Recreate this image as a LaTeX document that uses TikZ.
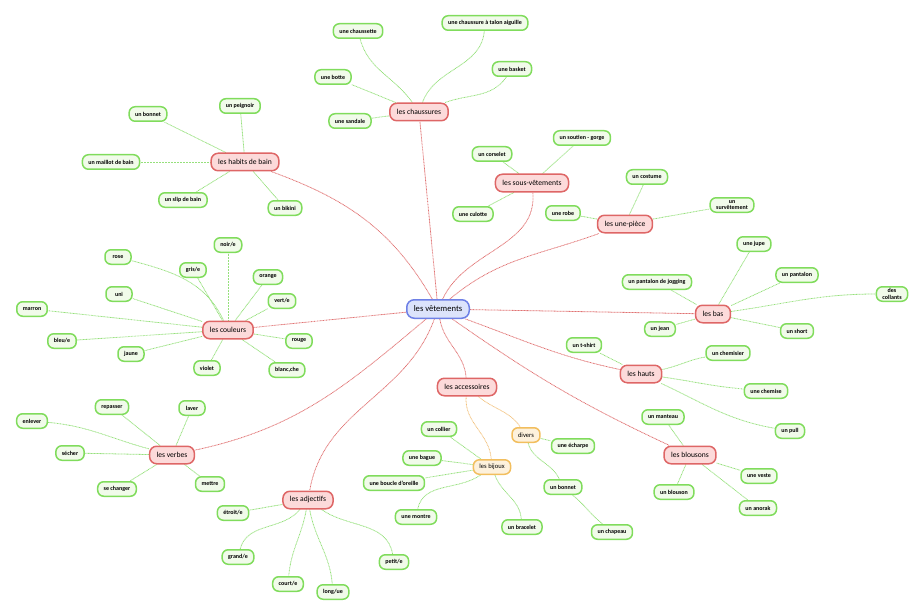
\documentclass[tikz,border=0pt]{standalone}
\usepackage{fontspec}
\setmainfont{Carlito}
\usetikzlibrary{backgrounds}

\definecolor{lfD}{HTML}{80DC5C}
\definecolor{lfF}{HTML}{F1FBEA}
\definecolor{ctD}{HTML}{DE6666}
\definecolor{ctF}{HTML}{FCDADA}
\definecolor{mnD}{HTML}{6E80E6}
\definecolor{mnF}{HTML}{DCE3FB}
\definecolor{sbD}{HTML}{F2BE5E}
\definecolor{sbF}{HTML}{FDF1DC}
\definecolor{rlC}{HTML}{E07272}
\definecolor{glC}{HTML}{96E07C}
\definecolor{olC}{HTML}{F2C27E}

\begin{document}
\begin{tikzpicture}[
  x=1pt,y=1pt,
  bx/.style ={draw,align=center,line width=1.5pt,inner xsep=6pt,inner ysep=1.5pt},
  lf/.style ={bx,rounded corners=6pt,draw=lfD,fill=lfF,minimum height=14.5pt,minimum width=26pt,
              font=\fontsize{6}{6.8}\selectfont\bfseries},
  ct/.style ={bx,rounded corners=7pt,draw=ctD,fill=ctF,minimum height=17.5pt,inner xsep=7pt,
              font=\fontsize{7.6}{9}\selectfont},
  sb/.style ={bx,rounded corners=6pt,draw=sbD,fill=sbF,minimum height=14.5pt,
              font=\fontsize{6.6}{8}\selectfont},
  mn/.style ={bx,rounded corners=7.5pt,draw=mnD,fill=mnF,minimum height=18.5pt,inner xsep=7pt,
              font=\fontsize{8.6}{10}\selectfont},
  ln/.style ={line width=0.8pt,dash pattern=on 0.9pt off 0.6pt},
  rl/.style ={ln,draw=rlC},
  gl/.style ={ln,draw=glC},
  ol/.style ={ln,draw=olC}
]
\useasboundingbox (0,0) rectangle (924,-615);

% ======== centre
\node[mn] (vt) at (438,-309) {les vêtements};

% ======== categories
\node[ct] (chs) at (419,-112) {les chaussures};
\node[ct] (hb)  at (245,-162) {les habits de bain};
\node[ct] (sv)  at (532,-183) {les sous-vêtements};
\node[ct] (up)  at (625,-224) {les une-pièce};
\node[ct] (bas) at (713,-314) {les bas};
\node[ct] (cou) at (228,-330) {les couleurs};
\node[ct] (ht)  at (641,-374) {les hauts};
\node[ct] (acc) at (467,-387) {les accessoires};
\node[ct] (bl)  at (690,-455) {les blousons};
\node[ct] (vb)  at (172,-455) {les verbes};
\node[ct] (adj) at (308,-500) {les adjectifs};

% ======== les chaussures
\node[lf] (chst) at (358,-31)  {une chaussette};
\node[lf] (tal)  at (485,-23)  {une chaussure à talon aiguille};
\node[lf] (bsk)  at (512,-69)  {une basket};
\node[lf] (bot)  at (333,-77)  {une botte};
\node[lf] (snd)  at (350,-121) {une sandale};

% ======== les habits de bain
\node[lf] (bon1) at (148,-114) {un bonnet};
\node[lf] (peg)  at (240,-106) {un peignoir};
\node[lf] (mlt)  at (111,-162) {un maillot de bain};
\node[lf] (slp)  at (183,-200) {un slip de bain};
\node[lf] (bik)  at (285,-208) {un bikini};

% ======== les sous-vêtements
\node[lf] (crs) at (492,-154) {un corselet};
\node[lf] (stg) at (582,-138) {un soutien - gorge};
\node[lf] (cul) at (473,-214) {une culotte};

% ======== les une-pièce
\node[lf] (cst) at (647,-177) {un costume};
\node[lf] (rob) at (563,-213) {une robe};
\node[lf] (srv) at (732,-205) {un\\survêtement};

% ======== les bas
\node[lf] (jup) at (754,-244) {une jupe};
\node[lf] (pan) at (797,-275) {un pantalon};
\node[lf] (jog) at (657,-282) {un pantalon de jogging};
\node[lf] (col) at (892,-294) {des\\collants};
\node[lf] (jea) at (660,-329) {un jean};
\node[lf] (sho) at (797,-331) {un short};

% ======== les couleurs
\node[lf] (noi) at (228,-245) {noir/e};
\node[lf] (ros) at (118,-257) {rose};
\node[lf] (gri) at (193,-270) {gris/e};
\node[lf] (org) at (268,-277) {orange};
\node[lf] (uni) at (119,-294) {uni};
\node[lf] (ver) at (282,-301) {vert/e};
\node[lf] (mar) at (32,-309)  {marron};
\node[lf] (rou) at (299,-341) {rouge};
\node[lf] (ble) at (62,-341)  {bleu/e};
\node[lf] (jau) at (131,-354) {jaune};
\node[lf] (vio) at (207,-368) {violet};
\node[lf] (bla) at (287,-370) {blanc,che};

% ======== les hauts
\node[lf] (tsh) at (584,-345) {un t-shirt};
\node[lf] (chm) at (728,-353) {un chemisier};
\node[lf] (che) at (766,-391) {une chemise};
\node[lf] (pul) at (790,-431) {un pull};

% ======== les blousons
\node[lf] (man) at (663,-417) {un manteau};
\node[lf] (ves) at (759,-476) {une veste};
\node[lf] (blo) at (674,-492) {un blouson};
\node[lf] (ano) at (758,-508) {un anorak};

% ======== les accessoires
\node[sb] (div) at (526,-435) {divers};
\node[sb] (bij) at (492,-467) {les bijoux};
\node[lf] (ech)  at (573,-446) {une écharpe};
\node[lf] (bon2) at (563,-487) {un bonnet};
\node[lf] (chp)  at (612,-532) {un chapeau};
\node[lf] (cll)  at (439,-429) {un collier};
\node[lf] (bag)  at (422,-458) {une bague};
\node[lf] (bcl)  at (394,-483) {une boucle d'oreille};
\node[lf] (mon)  at (416,-517) {une montre};
\node[lf] (brc)  at (522,-527) {un bracelet};

% ======== les verbes
\node[lf] (rep) at (112,-407) {repasser};
\node[lf] (lav) at (192,-408) {laver};
\node[lf] (enl) at (32,-421)  {enlever};
\node[lf] (sec) at (70,-453)  {sécher};
\node[lf] (chg) at (117,-489) {se changer};
\node[lf] (met) at (210,-484) {mettre};

% ======== les adjectifs
\node[lf] (etr) at (233,-513) {étroit/e};
\node[lf] (grd) at (238,-557) {grand/e};
\node[lf] (crt) at (288,-584) {court/e};
\node[lf] (lng) at (333,-592) {long/ue};
\node[lf] (pet) at (394,-562) {petit/e};

% ======== links (drawn behind)
\begin{pgfonlayer}{background}
% centre -> categories
\draw[rl] (vt) -- (chs);
\draw[rl] (vt) to[out=120,in=-20] (hb);
\draw[rl] (vt) to[out=65,in=-85] (sv);
\draw[rl] (vt) to[out=40,in=200] (up);
\draw[rl] (vt) -- (bas);
\draw[rl] (vt) -- (cou);
\draw[rl] (vt) to[out=-20,in=168] (ht);
\draw[rl] (vt) to[out=-80,in=95] (acc);
\draw[rl] (vt) to[out=-35,in=155] (bl);
\draw[rl] (vt) to[out=-140,in=12] (vb);
\draw[rl] (vt) to[out=-110,in=80] (adj);

% les chaussures
\draw[gl] (chs) to[out=125,in=-75] (chst);
\draw[gl] (chs) to[out=70,in=-95] (tal);
\draw[gl] (chs) to[out=20,in=-125] (bsk);
\draw[gl] (chs) -- (bot);
\draw[gl] (chs) -- (snd);

% les habits de bain
\foreach \c in {bon1,peg,mlt,slp,bik} \draw[gl] (hb) -- (\c);

% les sous-vêtements, les une-pièce
\foreach \c in {crs,stg,cul} \draw[gl] (sv) -- (\c);
\foreach \c in {cst,rob,srv} \draw[gl] (up) -- (\c);

% les bas
\foreach \c in {jup,pan,jog,jea,sho} \draw[gl] (bas) -- (\c);
\draw[gl] (bas) to[out=8,in=180] (col);

% les couleurs
\foreach \c in {noi,gri,org,uni,ver,mar,rou,ble,jau,vio,bla} \draw[gl] (cou) -- (\c);
\draw[gl] (cou) to[out=115,in=-15] (ros);

% les hauts
\draw[gl] (ht) -- (tsh);
\draw[gl] (ht) to[out=12,in=190] (chm);
\draw[gl] (ht) to[out=-8,in=175] (che);
\draw[gl] (ht) to[out=-25,in=170] (pul);

% les blousons
\foreach \c in {man,ves,blo,ano} \draw[gl] (bl) -- (\c);

% les accessoires
\draw[ol] (acc) to[out=-40,in=125] (div);
\draw[ol] (acc) to[out=-95,in=95] (bij);
\draw[gl] (div) -- (ech);
\draw[gl] (div) to[out=-75,in=115] (bon2);
\draw[gl] (bon2) to[out=-40,in=140] (chp);
\foreach \c in {cll,bag,bcl} \draw[gl] (bij) -- (\c);
\draw[gl] (bij) to[out=-145,in=78] (mon);
\draw[gl] (bij) to[out=-70,in=95] (brc);

% les verbes
\foreach \c in {rep,lav,sec,chg,met} \draw[gl] (vb) -- (\c);
\draw[gl] (vb) to[out=165,in=-5] (enl);

% les adjectifs
\draw[gl] (adj) -- (etr);
\draw[gl] (adj) to[out=-130,in=75] (grd);
\draw[gl] (adj) to[out=-100,in=85] (crt);
\draw[gl] (adj) to[out=-80,in=95] (lng);
\draw[gl] (adj) to[out=-35,in=100] (pet);
\end{pgfonlayer}
\end{tikzpicture}
\end{document}
